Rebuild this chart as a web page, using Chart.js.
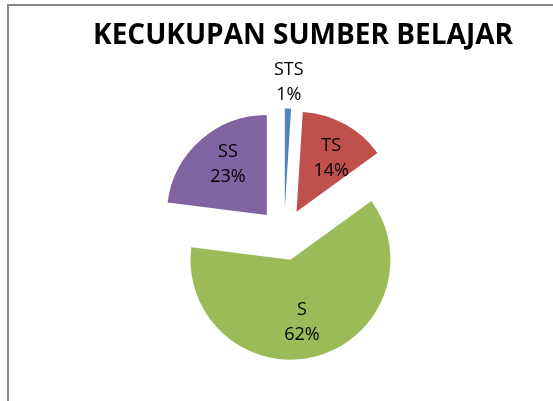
<!DOCTYPE html>
<html>
<head>
<meta charset="utf-8">
<script src="https://cdn.jsdelivr.net/npm/chart.js@4.4.1/dist/chart.umd.min.js"></script>
<style>
  html, body { margin: 0; padding: 0; background: #ffffff; }
  #wrap { position: relative; width: 553px; height: 401px; }
  canvas { display: block; }
</style>
</head>
<body>
<div id="wrap"><canvas id="c" width="553" height="401"></canvas></div>
<script>
const chartTitle = 'KECUKUPAN SUMBER BELAJAR';
const categories = ['STS', 'TS', 'S', 'SS'];
const percentages = [1, 14, 62, 23];
const sliceColors = ['#4F81BD', '#C0504D', '#9BBB59', '#8064A2'];

const EXPLODE = 26;        // distance each slice is pulled away from the centre
const LABEL_FONT = '18px "Open Sans"';
const LABEL_TURN = 0.05;   // small clockwise nudge for labels placed inside slices

// Arc that is drawn pulled out along its mid angle
class ExplodedArc extends Chart.ArcElement {
  static id = 'explodedArc';
  draw(ctx) {
    const mid = (this.startAngle + this.endAngle) / 2;
    ctx.save();
    ctx.translate(Math.cos(mid) * EXPLODE, Math.sin(mid) * EXPLODE);
    super.draw(ctx);
    ctx.restore();
  }
}
class ExplodedPieController extends Chart.PieController {
  static id = 'explodedPie';
  static defaults = { dataElementType: 'explodedArc' };
}
Chart.register(ExplodedArc, ExplodedPieController);

// Outer frame and the title
const frameTitle = {
  id: 'frameTitle',
  beforeDraw(chart) {
    const ctx = chart.ctx;
    ctx.save();
    ctx.strokeStyle = '#898989';
    ctx.lineWidth = 2;
    ctx.beginPath();
    ctx.moveTo(8, chart.height);
    ctx.lineTo(8, 5);
    ctx.lineTo(chart.width, 5);
    ctx.stroke();
    ctx.restore();
  },
  afterDraw(chart) {
    const ctx = chart.ctx;
    ctx.save();
    ctx.fillStyle = '#000000';
    ctx.font = 'bold 28px "Open Sans"';
    ctx.textAlign = 'center';
    ctx.textBaseline = 'alphabetic';
    ctx.fillText(chartTitle, 303, 44);
    ctx.restore();
  }
};

// Category / percentage labels for each slice
const sliceLabels = {
  id: 'sliceLabels',
  afterDatasetsDraw(chart) {
    const ctx = chart.ctx;
    const meta = chart.getDatasetMeta(0);
    ctx.save();
    ctx.fillStyle = '#000000';
    ctx.font = LABEL_FONT;
    ctx.textAlign = 'center';
    ctx.textBaseline = 'middle';
    meta.data.forEach((arc, i) => {
      const mid = (arc.startAngle + arc.endAngle) / 2;
      const r = arc.outerRadius;
      const outside = percentages[i] < 5;
      const ang = outside ? mid : mid + LABEL_TURN;
      const dist = outside ? EXPLODE + r + 26 : EXPLODE + r * 0.64;
      const x = arc.x + Math.cos(ang) * dist;
      const y = arc.y + Math.sin(ang) * dist;
      ctx.fillText(categories[i], x, y - 12.5);
      ctx.fillText(percentages[i] + '%', x, y + 12.5);
    });
    ctx.restore();
  }
};

new Chart(document.getElementById('c'), {
  type: 'explodedPie',
  data: {
    labels: categories,
    datasets: [{
      data: percentages,
      backgroundColor: sliceColors,
      borderWidth: 0,
      radius: 100
    }]
  },
  options: {
    responsive: false,
    animation: false,
    events: [],
    layout: { padding: { left: 15, right: 0, top: 68, bottom: 0 } },
    plugins: {
      legend: { display: false },
      tooltip: { enabled: false },
      title: { display: false }
    }
  },
  plugins: [frameTitle, sliceLabels]
});
</script>
</body>
</html>
